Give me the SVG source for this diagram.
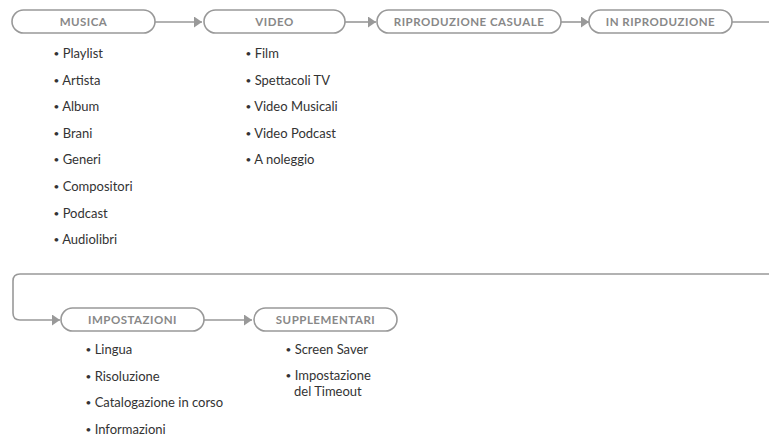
<svg xmlns="http://www.w3.org/2000/svg" width="769" height="436" viewBox="0 0 769 436">
<style>
.pill{fill:#fff;stroke:#999;stroke-width:1.6}
.hd{font-family:Lato,"Open Sans","Liberation Sans",sans-serif;font-weight:bold;font-size:11.5px;fill:#888;text-anchor:middle;letter-spacing:0.5px}
.it{font-family:Lato,"Open Sans","Liberation Sans",sans-serif;font-size:13px;fill:#333}
.b{font-size:10px;baseline-shift:1px}
.cn{fill:none;stroke:#999;stroke-width:1.6}
</style>
<defs>
<marker id="ah" markerWidth="10" markerHeight="11" refX="8" refY="5.5" orient="auto" markerUnits="userSpaceOnUse">
<path d="M0,0 L8,5.5 L0,11 Z" fill="#999"/>
</marker>
</defs>
<rect width="769" height="436" fill="#fff"/>
<g id="connectors">
<path class="cn" d="M155,22 H202" marker-end="url(#ah)"/>
<path class="cn" d="M345,22 H376" marker-end="url(#ah)"/>
<path class="cn" d="M561,22 H589" marker-end="url(#ah)"/>
<path class="cn" d="M732,22 H769"/>
<path class="cn" d="M769,274 H20 Q13,274 13,281 V313 Q13,320 20,320 H60" marker-end="url(#ah)"/>
<path class="cn" d="M204,320 H252" marker-end="url(#ah)"/>
</g>
<g id="musica">
<rect class="pill" x="12" y="10" width="143" height="23" rx="11.5"/>
<text class="hd" x="83.5" y="25.8">MUSICA</text>
<text class="it" x="53.5" y="58"><tspan class="b">•</tspan> Playlist</text>
<text class="it" x="53.5" y="84.6"><tspan class="b">•</tspan> Artista</text>
<text class="it" x="53.5" y="111.2"><tspan class="b">•</tspan> Album</text>
<text class="it" x="53.5" y="137.8"><tspan class="b">•</tspan> Brani</text>
<text class="it" x="53.5" y="164.4"><tspan class="b">•</tspan> Generi</text>
<text class="it" x="53.5" y="191"><tspan class="b">•</tspan> Compositori</text>
<text class="it" x="53.5" y="217.6"><tspan class="b">•</tspan> Podcast</text>
<text class="it" x="53.5" y="244.2"><tspan class="b">•</tspan> Audiolibri</text>
</g>
<g id="video">
<rect class="pill" x="204" y="10" width="141" height="23" rx="11.5"/>
<text class="hd" x="274.5" y="25.8">VIDEO</text>
<text class="it" x="245.5" y="58"><tspan class="b">•</tspan> Film</text>
<text class="it" x="245.5" y="84.6"><tspan class="b">•</tspan> Spettacoli TV</text>
<text class="it" x="245.5" y="111.2"><tspan class="b">•</tspan> Video Musicali</text>
<text class="it" x="245.5" y="137.8"><tspan class="b">•</tspan> Video Podcast</text>
<text class="it" x="245.5" y="164.4"><tspan class="b">•</tspan> A noleggio</text>
</g>
<g id="riproduzione-casuale">
<rect class="pill" x="377" y="10" width="184" height="23" rx="11.5"/>
<text class="hd" x="469" y="25.8">RIPRODUZIONE CASUALE</text>
</g>
<g id="in-riproduzione">
<rect class="pill" x="589" y="10" width="143" height="23" rx="11.5"/>
<text class="hd" x="660.5" y="25.8">IN RIPRODUZIONE</text>
</g>
<g id="impostazioni">
<rect class="pill" x="61" y="308" width="143" height="23" rx="11.5"/>
<text class="hd" x="132.5" y="323.8">IMPOSTAZIONI</text>
<text class="it" x="85.5" y="354"><tspan class="b">•</tspan> Lingua</text>
<text class="it" x="85.5" y="380.6"><tspan class="b">•</tspan> Risoluzione</text>
<text class="it" x="85.5" y="407.2"><tspan class="b">•</tspan> Catalogazione in corso</text>
<text class="it" x="85.5" y="433.8"><tspan class="b">•</tspan> Informazioni</text>
</g>
<g id="supplementari">
<rect class="pill" x="254" y="308" width="143" height="23" rx="11.5"/>
<text class="hd" x="325.5" y="323.8">SUPPLEMENTARI</text>
<text class="it" x="285.5" y="354"><tspan class="b">•</tspan> Screen Saver</text>
<text class="it" x="285.5" y="380"><tspan class="b">•</tspan> Impostazione</text>
<text class="it" x="294" y="396">del Timeout</text>
</g>
</svg>
